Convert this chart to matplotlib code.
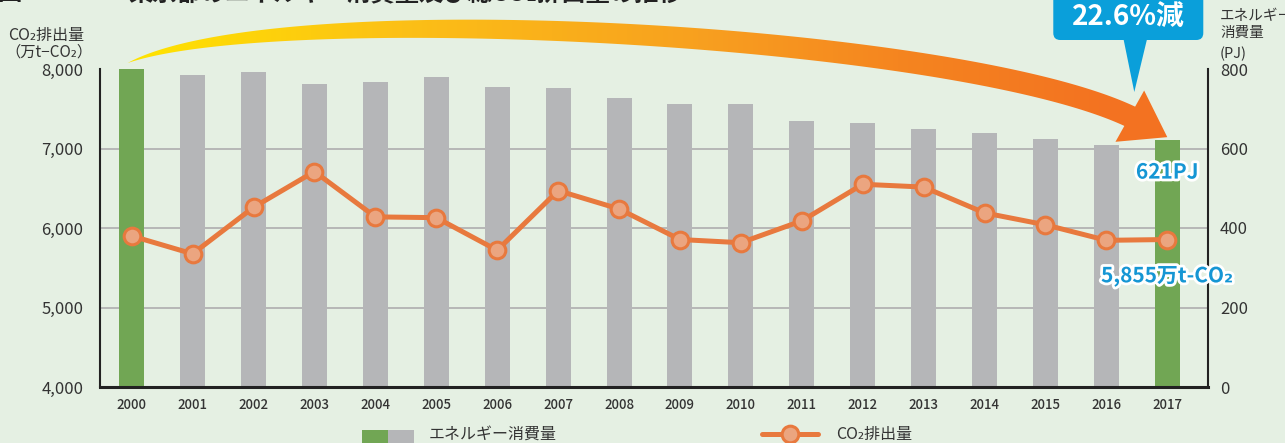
import numpy as np
import matplotlib
matplotlib.use("Agg")
import matplotlib.pyplot as plt
import matplotlib.patheffects as pe
from matplotlib.patches import Rectangle, Polygon, FancyBboxPatch
from matplotlib.colors import LinearSegmentedColormap
from matplotlib.ticker import FuncFormatter

plt.rcParams['font.family'] = ['Noto Sans CJK JP', 'DejaVu Sans']

# ---------------------------------------------------------------------------
# data
# ---------------------------------------------------------------------------
years = [str(y) for y in range(2000, 2018)]
energy_pj = [802, 785, 792, 762, 767, 780, 755, 752, 727, 712, 712, 669,
             665, 649, 639, 624, 609, 621]
co2_10kt = [5900, 5675, 6260, 6710, 6140, 6130, 5720, 6470, 6240, 5855,
            5815, 6090, 6550, 6515, 6190, 6040, 5845, 5855]
left_ticks = [4000, 5000, 6000, 7000, 8000]
right_ticks = [0, 200, 400, 600, 800]

GREEN = '#71A654'
GRAY = '#B5B6B8'
ORANGE = '#E8793E'
SALMON = '#EBA580'
BLUE = '#1596D4'
BG = '#E5F0E3'
TXT = '#333333'

W, H = 1285, 443
fig = plt.figure(figsize=(W / 100, H / 100), dpi=100, facecolor=BG)

ax = fig.add_axes([100 / W, 1 - 387 / H, (1207.5 - 100) / W, (387 - 69) / H])
ax2 = ax.twinx()
ax.set_zorder(ax2.get_zorder() + 1)
ax.patch.set_visible(False)
ax2.patch.set_facecolor('white')

x = np.arange(len(years))
bar_colors = [GREEN if i in (0, len(years) - 1) else GRAY for i in range(len(years))]
ax2.bar(x, energy_pj, width=0.41, color=bar_colors, zorder=2)
ax2.set_ylim(0, 800)
ax2.set_yticks(right_ticks)
ax2.yaxis.grid(True, color='#B3B3B3', lw=1.3)
ax2.set_axisbelow(True)
grid = ax2.get_ygridlines()
grid[0].set_visible(False)
grid[-1].set_visible(False)

ax.plot(x, co2_10kt, color=ORANGE, lw=3.6, marker='o', ms=12,
        mfc=SALMON, mec=ORANGE, mew=2.2, zorder=5, clip_on=False)
ax.set_ylim(4000, 8000)
ax.set_yticks(left_ticks)
ax.yaxis.set_major_formatter(FuncFormatter(lambda v, p: f"{int(v):,}"))
ax.set_xlim(-0.52, len(years) - 1 + 0.66)
ax.set_xticks(x)
ax.set_xticklabels(years)

for s in ('top', 'right'):
    ax.spines[s].set_visible(False)
for s in ('top', 'left', 'bottom'):
    ax2.spines[s].set_visible(False)
ax.spines['left'].set_linewidth(1.5)
ax.spines['bottom'].set_linewidth(2.2)
ax2.spines['right'].set_linewidth(1.5)
for sp in (ax.spines['left'], ax.spines['bottom'], ax2.spines['right']):
    sp.set_color('#222222')

ax.tick_params(axis='y', length=0, pad=12, labelsize=12, labelcolor=TXT)
ax.tick_params(axis='x', length=0, pad=8, labelsize=9.5, labelcolor=TXT)
ax2.tick_params(axis='y', length=0, pad=9, labelsize=12, labelcolor=TXT)
for lab in ax.get_xticklabels():
    lab.set_fontweight('medium')

# value labels on the last year
stroke = [pe.withStroke(linewidth=4, foreground='white')]
ax2.annotate(f"{energy_pj[-1]}PJ", xy=(x[-1], energy_pj[-1]), xytext=(0, -23),
             textcoords='offset points', ha='center', va='center',
             fontsize=15, weight='bold', color=BLUE, path_effects=stroke,
             annotation_clip=False, zorder=6)
ax.annotate(f"{co2_10kt[-1]:,}万t-CO₂", xy=(x[-1], co2_10kt[-1]), xytext=(0, -26.5),
            textcoords='offset points', ha='center', va='center',
            fontsize=15, weight='bold', color=BLUE, path_effects=stroke,
            annotation_clip=False, zorder=6)

# ---------------------------------------------------------------------------
# overlay in pixel coordinates: arrow, callout, titles, legend
# ---------------------------------------------------------------------------
ov = fig.add_axes([0, 0, 1, 1], zorder=10)
ov.set_xlim(0, W)
ov.set_ylim(H, 0)
ov.axis('off')
ov.patch.set_alpha(0)


def to_px(axis, xv, yv):
    px, py = axis.transData.transform((xv, yv))
    return np.array([px, H - py])


start = to_px(ax2, x[0], 800)
end = to_px(ax2, x[-1], energy_pj[-1])

tip = end + np.array([0, -3])
d = np.array([0.872, 0.488])
nrm = np.array([-d[1], d[0]])
base = tip - d * 43
P0 = start + np.array([-4, -6])
P3 = base + d * 2
P1 = P0 + np.array([150, -66])
P2 = P3 + np.array([-175, -84])
t = np.linspace(0, 1, 300)[:, None]
curve = (1 - t) ** 3 * P0 + 3 * (1 - t) ** 2 * t * P1 + 3 * (1 - t) * t ** 2 * P2 + t ** 3 * P3
deriv = 3 * (1 - t) ** 2 * (P1 - P0) + 6 * (1 - t) * t * (P2 - P1) + 3 * t ** 2 * (P3 - P2)
tang = deriv / np.linalg.norm(deriv, axis=1)[:, None]
normal = np.column_stack([-tang[:, 1], tang[:, 0]])
w = 22 * (1 - (1 - t) ** 4)
body = np.vstack([curve - normal * w / 2, (curve + normal * w / 2)[::-1]])
head = np.array([base + nrm * 29.4, tip, base - nrm * 29.4])

cmap = LinearSegmentedColormap.from_list('arrow', [
    (0, '#FFE400'), (128 / W, '#FFE400'), (400 / W, '#FCC016'),
    (700 / W, '#F8A01F'), (900 / W, '#F5851F'), (1100 / W, '#F37321'), (1, '#F37021')])
grad = np.linspace(0, 1, W)[None, :]
for shape in (body, head):
    poly = Polygon(shape, closed=True, fc='none', ec='none')
    ov.add_patch(poly)
    im = ov.imshow(grad, cmap=cmap, extent=(0, W, H, 0), aspect='auto', zorder=3)
    im.set_clip_path(poly)

# callout "22.6%減"
cx = end[0] - 39
drop = (1 - energy_pj[-1] / energy_pj[0]) * 100
ov.add_patch(FancyBboxPatch((cx - 75, -20), 150, 60,
                            boxstyle='round,pad=0,rounding_size=7',
                            fc='#0A9FDA', ec='none', zorder=4))
ov.add_patch(Polygon([(cx - 5, 38), (cx + 19, 38), (cx + 6, 92)], closed=True,
                     fc='#0A9FDA', ec='none', zorder=4))
ov.text(cx, 17, f"{drop:.1f}%減", color='white', fontsize=20, weight='bold',
        ha='center', va='center', zorder=5)

# title (cropped at the top edge, as in the source image)
ov.text(-3, 0, "図", fontsize=17.5, weight='bold', color='#222', va='baseline')
ov.text(128, 0, "東京都のエネルギー消費量及び総CO₂排出量の推移", fontsize=17.5,
        weight='bold', color='#222', ha='left', va='baseline')

# axis titles
ov.text(8, 35, "CO₂排出量", fontsize=11.5, color=TXT, va='center', ha='left')
ov.text(5, 52, "（万t−CO₂）", fontsize=11, color=TXT, va='center', ha='left')
ov.text(1220, 16, "エネルギー", fontsize=10.5, color=TXT, va='center', ha='left')
ov.text(1220, 33, "消費量", fontsize=10.5, color=TXT, va='center', ha='left')
ov.text(1220, 54, "(PJ)", fontsize=10.5, color=TXT, va='center', ha='left')

# legend
ov.add_patch(Rectangle((362, 430), 26, 16, fc=GREEN, ec='none'))
ov.add_patch(Rectangle((388, 430), 26, 16, fc=GRAY, ec='none'))
ov.text(429, 434.5, "エネルギー消費量", fontsize=11.5, color=TXT, va='center', ha='left')
ov.plot([762, 818], [433.5, 433.5], color=ORANGE, lw=3.6, solid_capstyle='round')
ov.plot([790], [434], marker='o', ms=12, mfc=SALMON, mec=ORANGE, mew=2.2)
ov.text(836, 434.5, "CO₂排出量", fontsize=11.5, color=TXT, va='center', ha='left')

fig.savefig('out.png', dpi=100, facecolor=fig.get_facecolor())
